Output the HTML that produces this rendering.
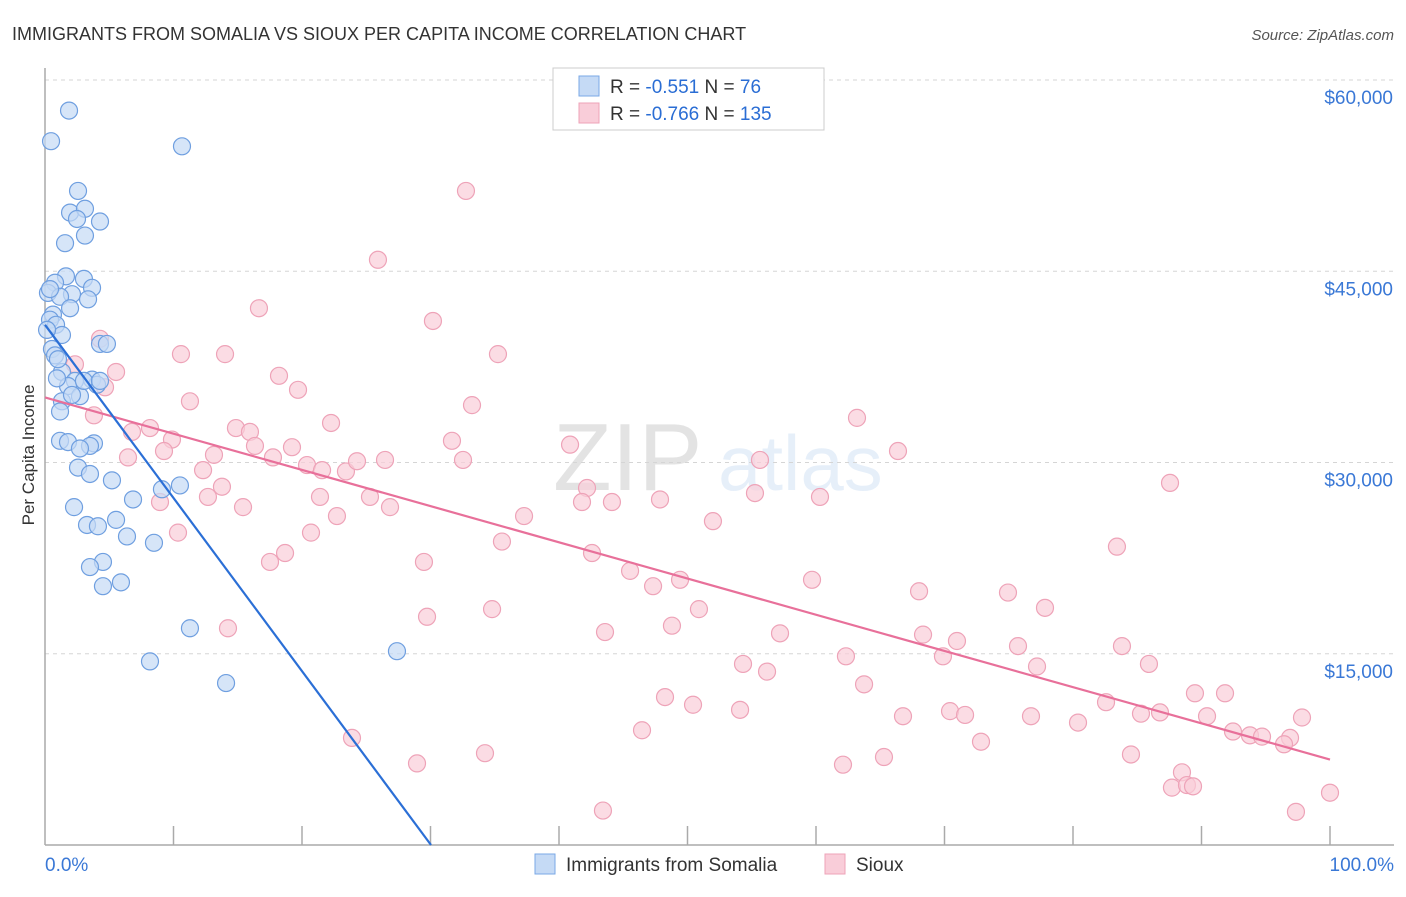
<!DOCTYPE html>
<html><head><meta charset="utf-8"><style>
body{margin:0;background:#fff;font-family:"Liberation Sans",sans-serif}
svg text{font-family:"Liberation Sans",sans-serif}
</style></head><body>
<svg id="c" width="1406" height="892">
<text x="12" y="40" font-size="18" fill="#333">IMMIGRANTS FROM SOMALIA VS SIOUX PER CAPITA INCOME CORRELATION CHART</text>
<text x="1394" y="40" font-size="15" fill="#555" font-style="italic" text-anchor="end">Source: ZipAtlas.com</text>
<text transform="translate(34,455) rotate(-90)" font-size="17" fill="#333" text-anchor="middle">Per Capita Income</text>
<g opacity="0.13"><text x="553" y="490" font-size="96" font-family="Liberation Serif,serif" fill="#333">ZIP</text><text x="718" y="490" font-size="78" fill="#4a8ad8">atlas</text></g>
<g id="grid"></g><g id="pts"></g><g id="lines"></g>
<g>
<rect x="553" y="68" width="271" height="62" fill="#fff" stroke="#ccc"/>
<rect x="579" y="76" width="20" height="20" fill="#c5daf5" stroke="#7aa8e6"/>
<rect x="579" y="103" width="20" height="20" fill="#f9cdd9" stroke="#eea3b8"/>
<text x="610" y="93" font-size="19" fill="#333">R = <tspan fill="#2a6dd4">-0.551</tspan>   N = <tspan fill="#2a6dd4"> 76</tspan></text>
<text x="610" y="120" font-size="19" fill="#333">R = <tspan fill="#2a6dd4">-0.766</tspan>   N = <tspan fill="#2a6dd4">135</tspan></text>
</g>
<g>
<rect x="535" y="854" width="20" height="20" fill="#c5daf5" stroke="#7aa8e6"/>
<text x="566" y="871" font-size="19" fill="#333">Immigrants from Somalia</text>
<rect x="825" y="854" width="20" height="20" fill="#f9cdd9" stroke="#eea3b8"/>
<text x="856" y="871" font-size="19" fill="#333">Sioux</text>
</g>
</svg>
<script>
const yTicks=[15000,30000,45000,60000];
const yTickLabels=["$15,000","$30,000","$45,000","$60,000"];
const xTickLabels=["0.0%","100.0%"];
const somaliaX=[1.87,0.47,10.66,2.57,1.95,3.11,2.49,4.28,3.11,1.56,1.63,3.03,0.78,0.23,2.1,3.66,1.17,3.35,1.95,0.62,0.39,0.86,1.32,4.28,4.82,0.54,0.78,1.32,3.66,4.05,2.33,1.79,0.93,2.72,1.32,1.17,1.17,1.79,3.81,3.5,2.72,2.57,3.5,5.21,2.26,6.85,9.1,10.5,3.27,4.12,5.53,6.38,8.48,4.51,3.5,5.91,4.51,11.28,8.17,14.09,27.39,0.39,0.16,1.01,3.03,4.28,2.1];
const somaliaY=[57.6,55.2,54.8,51.3,49.6,49.9,49.1,48.9,47.8,47.2,44.6,44.4,44.1,43.3,43.2,43.7,43.0,42.8,42.1,41.6,41.2,40.8,40.0,39.3,39.3,38.9,38.4,37.1,36.5,36.1,36.4,36.0,36.6,35.2,34.8,34.0,31.7,31.6,31.5,31.3,31.1,29.6,29.1,28.6,26.5,27.1,27.9,28.2,25.1,25.0,25.5,24.2,23.7,22.2,21.8,20.6,20.3,17.0,14.4,12.7,15.2,43.6,40.4,38.1,36.4,36.4,35.3];
const siouxX=[32.76,25.91,16.65,30.19,4.28,10.58,14.01,35.25,5.53,18.21,2.33,4.67,19.69,11.28,33.23,63.19,3.81,6.77,8.17,14.86,15.95,22.26,31.67,40.86,66.38,6.46,9.88,9.26,12.3,13.15,16.34,19.22,17.74,20.39,21.56,23.42,24.28,26.46,32.53,55.64,13.77,12.68,21.4,25.29,26.85,8.95,15.41,42.18,41.79,44.12,47.86,55.25,60.31,87.55,37.28,51.98,22.72,20.7,10.35,35.56,83.42,18.68,17.51,29.49,42.57,45.53,49.42,47.32,59.69,34.79,29.73,50.89,68.02,74.94,77.82,14.24,43.58,48.79,57.2,68.33,70.97,75.72,83.81,54.32,62.33,69.88,77.2,85.91,56.19,63.74,48.25,50.43,54.09,66.77,70.43,71.6,76.73,80.39,82.57,85.29,86.77,89.49,91.83,90.43,97.82,92.45,93.77,94.71,96.89,96.42,46.46,23.89,34.24,28.95,72.84,84.51,65.29,62.1,88.48,87.7,88.87,89.34,43.42,97.35,100.0];
const siouxY=[51.3,45.9,42.1,41.1,39.7,38.5,38.5,38.5,37.1,36.8,37.7,35.9,35.7,34.8,34.5,33.5,33.7,32.4,32.7,32.7,32.4,33.1,31.7,31.4,30.9,30.4,31.8,30.9,29.4,30.6,31.3,31.2,30.4,29.8,29.4,29.3,30.1,30.2,30.2,30.2,28.1,27.3,27.3,27.3,26.5,26.9,26.5,28.0,26.9,26.9,27.1,27.6,27.3,28.4,25.8,25.4,25.8,24.5,24.5,23.8,23.4,22.9,22.2,22.2,22.9,21.5,20.8,20.3,20.8,18.5,17.9,18.5,19.9,19.8,18.6,17.0,16.7,17.2,16.6,16.5,16.0,15.6,15.6,14.2,14.8,14.8,14.0,14.2,13.6,12.6,11.6,11.0,10.6,10.1,10.5,10.2,10.1,9.6,11.2,10.3,10.4,11.9,11.9,10.1,10.0,8.9,8.6,8.5,8.4,7.9,9.0,8.4,7.2,6.4,8.1,7.1,6.9,6.3,5.7,4.5,4.7,4.6,2.7,2.6,4.1];
const somaliaTrendX=[0,30.04];
const somaliaTrendY=[40.8,0];
const siouxTrendX=[0,100];
const siouxTrendY=[35.1,6.7];

const NS="http://www.w3.org/2000/svg";
const X0=45,X1=1330,YB=845,Y60=80;
const sx=p=>X0+(X1-X0)*p/100;
const sy=k=>YB-(YB-Y60)*k/60;
function mk(t,a,p){const e=document.createElementNS(NS,t);for(const k in a)e.setAttribute(k,a[k]);p.appendChild(e);return e;}
const grid=document.getElementById('grid');
yTicks.forEach((v,i)=>{
 const l=mk('line',{x1:X0,x2:1394,y1:sy(v/1000),y2:sy(v/1000),stroke:'#d5d5d5','stroke-dasharray':'4,4'},grid);
 
 
 const t=mk('text',{x:1393,y:sy(v/1000)+24,'font-size':19,fill:'#3a78d6','text-anchor':'end'},grid);
 t.textContent=yTickLabels[i];
 
 
});
const ax=mk('line',{x1:X0,x2:X0,y1:68,y2:YB,stroke:'#aaa','stroke-width':1.5},grid);


const bx=mk('line',{x1:X0,x2:1394,y1:YB,y2:YB,stroke:'#aaa','stroke-width':1.5},grid);


for(let i=1;i<=10;i++){const t=mk('line',{x1:sx(i*10),x2:sx(i*10),y1:YB-19,y2:YB,stroke:'#aaa','stroke-width':1.5},grid);
 
 }
[[0,'start',45],[100,'end',1394]].forEach((d,i)=>{const t=mk('text',{x:d[2],y:871,'font-size':19,fill:'#3a78d6','text-anchor':d[1]},grid);t.textContent=xTickLabels[i];
 
 });
const pts=document.getElementById('pts');
siouxX.forEach((x,i)=>{const c=mk('circle',{cx:sx(x),cy:sy(siouxY[i]),r:8.5,fill:'#f9cdd9','fill-opacity':0.7,stroke:'#eea3b8','stroke-width':1.2},pts);
 
 });
somaliaX.forEach((x,i)=>{const c=mk('circle',{cx:sx(x),cy:sy(somaliaY[i]),r:8.5,fill:'#c5daf5','fill-opacity':0.7,stroke:'#6f9fe0','stroke-width':1.2},pts);
 
 });
const lines=document.getElementById('lines');
const l1=mk('line',{x1:sx(siouxTrendX[0]),y1:sy(siouxTrendY[0]),x2:sx(siouxTrendX[1]),y2:sy(siouxTrendY[1]),stroke:'#e8709a','stroke-width':2.2},lines);


const l2=mk('line',{x1:sx(somaliaTrendX[0]),y1:sy(somaliaTrendY[0]),x2:sx(somaliaTrendX[1]),y2:sy(somaliaTrendY[1]),stroke:'#2b6fd6','stroke-width':2.2},lines);


</script>
</body></html>
